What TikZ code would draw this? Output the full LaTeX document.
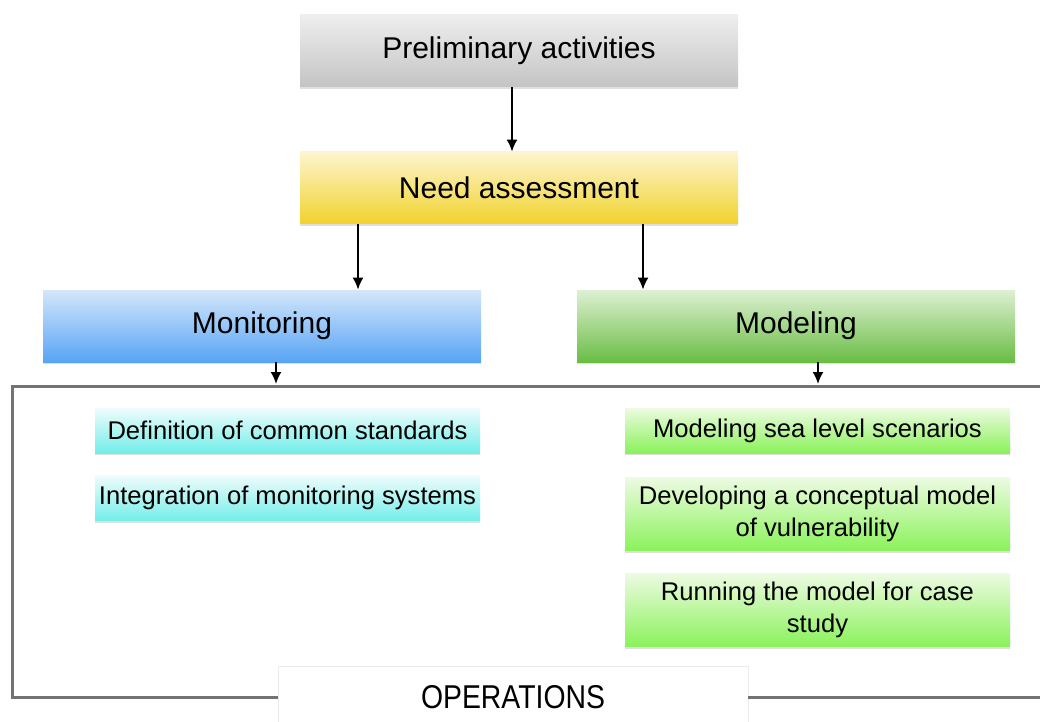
\documentclass[tikz,border=0pt]{standalone}
\usepackage{fontspec}
\setmainfont{Liberation Sans}
\newfontfamily\opsfont[FakeStretch=0.86]{Liberation Sans}
\usetikzlibrary{positioning,arrows.meta,shadows}

\definecolor{greytop}{HTML}{EEEEEE}
\definecolor{greybot}{HTML}{C4C4C4}
\definecolor{yellowtop}{HTML}{FCF5CE}
\definecolor{yellowbot}{HTML}{F2D22C}
\definecolor{bluetop}{HTML}{D4E7FB}
\definecolor{bluebot}{HTML}{58A4F5}
\definecolor{greentop}{HTML}{DEF0D3}
\definecolor{greenbot}{HTML}{6ABD45}
\definecolor{cyantop}{HTML}{EEFCFC}
\definecolor{cyanbot}{HTML}{72EEE9}
\definecolor{limetop}{HTML}{ECFBE1}
\definecolor{limebot}{HTML}{8AF25A}

\tikzset{
    >={Latex[length=6pt,width=5.5pt]},
    stage/.style={
        rectangle,
        draw=none,
        minimum width=219pt,
        minimum height=36pt,
        text centered,
        font=\fontsize{15}{18}\selectfont,
        drop shadow={opacity=0.25, shadow xshift=0pt, shadow yshift=-1.2pt}
    },
    grey stage/.style={stage, top color=greytop, bottom color=greybot},
    yellow stage/.style={stage, top color=yellowtop, bottom color=yellowbot},
    blue stage/.style={stage, top color=bluetop, bottom color=bluebot},
    green stage/.style={stage, top color=greentop, bottom color=greenbot},
    task/.style={
        rectangle,
        draw=none,
        minimum width=192.5pt,
        minimum height=22.5pt,
        inner xsep=1pt,
        align=center,
        font=\fontsize{12.8}{16}\selectfont,
        drop shadow={opacity=0.25, shadow xshift=0pt, shadow yshift=-1.2pt}
    },
    cyan task/.style={task, top color=cyantop, bottom color=cyanbot},
    lime task/.style={task, top color=limetop, bottom color=limebot, minimum height=36.5pt},
    line/.style={draw, line width=0.9pt, ->},
    frame/.style={draw=black!55, line width=1.5pt}
}

\begin{document}
\begin{tikzpicture}[x=0.5pt, y=-0.5pt, node distance=11pt and 1cm]
    \useasboundingbox (0,0) rectangle (1040,722);

    \node[grey stage] (prelim) at (519,51) {Preliminary activities};
    \node[yellow stage] (need) at (519,188) {Need assessment};
    \node[blue stage] (monitoring) at (262,326) {Monitoring};
    \node[green stage] (modeling) at (796,326) {Modeling};

    \node[cyan task] (standards) at (287.5,430.5) {Definition of common standards};
    \node[cyan task, below=of standards] (integration) {Integration of monitoring systems};

    \node[lime task, minimum height=22.5pt] (sealevel) at (817.5,430.5) {Modeling sea level scenarios};
    \node[lime task, below=12pt of sealevel] (conceptual) {Developing a conceptual model\\of vulnerability};
    \node[lime task, below=of conceptual] (running) {Running the model for case\\study};

    \node[rectangle, draw=black!8, fill=white, minimum width=235pt, minimum height=31pt,
          drop shadow={opacity=0.12, shadow xshift=0pt, shadow yshift=0pt},
          font=\opsfont\fontsize{16.5}{18}\selectfont] (ops) at (513,697) {OPERATIONS};

    \coordinate (frame ne) at (1040,386);
    \coordinate (frame sw) at (12,697);
    \coordinate (frame se) at (1040,697);
    \coordinate (mon in) at (276,384);
    \coordinate (mod in) at (818,384);

    \draw[frame] (frame ne) -| (frame sw) -- (ops.west);
    \draw[frame] (ops.east) -- (frame se);

    \draw[line] (prelim.south -| 512,0) -- (need.north -| 512,0);
    \draw[line] (need.south -| 358,0) -- (monitoring.north -| 358,0);
    \draw[line] (need.south -| 643,0) -- (modeling.north -| 643,0);
    \draw[line] (monitoring.south -| mon in) -- (mon in);
    \draw[line] (modeling.south -| mod in) -- (mod in);
\end{tikzpicture}
\end{document}
